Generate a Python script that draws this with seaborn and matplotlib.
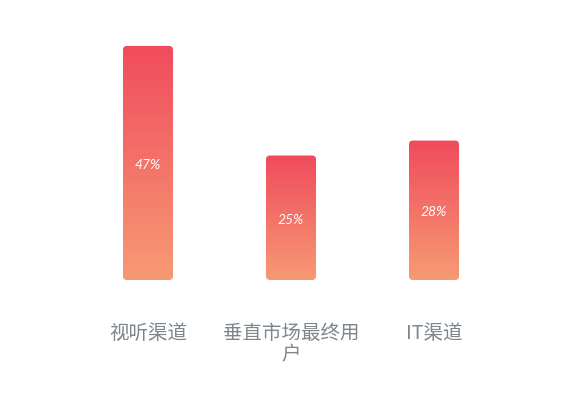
import numpy as np
import pandas as pd
import matplotlib
matplotlib.use("Agg")
import matplotlib.pyplot as plt
import seaborn as sns
from matplotlib.patches import FancyBboxPatch
from matplotlib.colors import LinearSegmentedColormap

categories = ["视听渠道", "垂直市场最终用户", "IT渠道"]
tick_labels = ["视听渠道", "垂直市场最终用\n户", "IT渠道"]
values = [47, 25, 28]

sns.set_theme(style="white")
plt.rcParams['font.family'] = ['Noto Sans CJK SC', 'DejaVu Sans']

df = pd.DataFrame({"cat": categories, "val": values})

fig = plt.figure(figsize=(5.85, 4.12), dpi=100)
ax = fig.add_axes([76.5 / 585, 132 / 412, 429 / 585, 249 / 412])
sns.barplot(data=df, x="cat", y="val", ax=ax, width=0.35, color="#f04d5d")

cmap = LinearSegmentedColormap.from_list("g", ["#f79a74", "#f04b5c"])
grad = np.linspace(0, 1, 256).reshape(-1, 1)

# one pixel in data units
px_x = 3.0 / 429
px_y = 50 / 249

for p, v in zip(list(ax.patches), values):
    x0, w = p.get_x(), p.get_width()
    h = p.get_height()
    p.set_visible(False)
    box = FancyBboxPatch((x0, 0), w, h,
                         boxstyle=f"round,pad=0,rounding_size={4 * px_x}",
                         mutation_aspect=px_y / px_x,
                         facecolor="none", edgecolor="none", transform=ax.transData)
    ax.add_patch(box)
    im = ax.imshow(grad, cmap=cmap, origin="lower", aspect="auto",
                   extent=[x0, x0 + w, 0, h], zorder=2)
    im.set_clip_path(box)
    ax.text(x0 + w / 2, h / 2 - 2 * px_y, f"{v}%", ha="center", va="center",
            color="white", fontsize=10, style="italic",
            family=["Lato", "DejaVu Sans"], zorder=3)

ax.set_xlim(-0.5, 2.5)
ax.set_ylim(0, 50)
ax.set_xlabel("")
ax.set_ylabel("")
ax.set_yticks([])
ax.set_xticks(range(len(categories)))
ax.set_xticklabels(tick_labels, color="#7d868c", fontsize=14, linespacing=1.0)
ax.tick_params(axis="x", length=0, pad=31)
for s in ax.spines.values():
    s.set_visible(False)

fig.savefig("out.png", dpi=100)
